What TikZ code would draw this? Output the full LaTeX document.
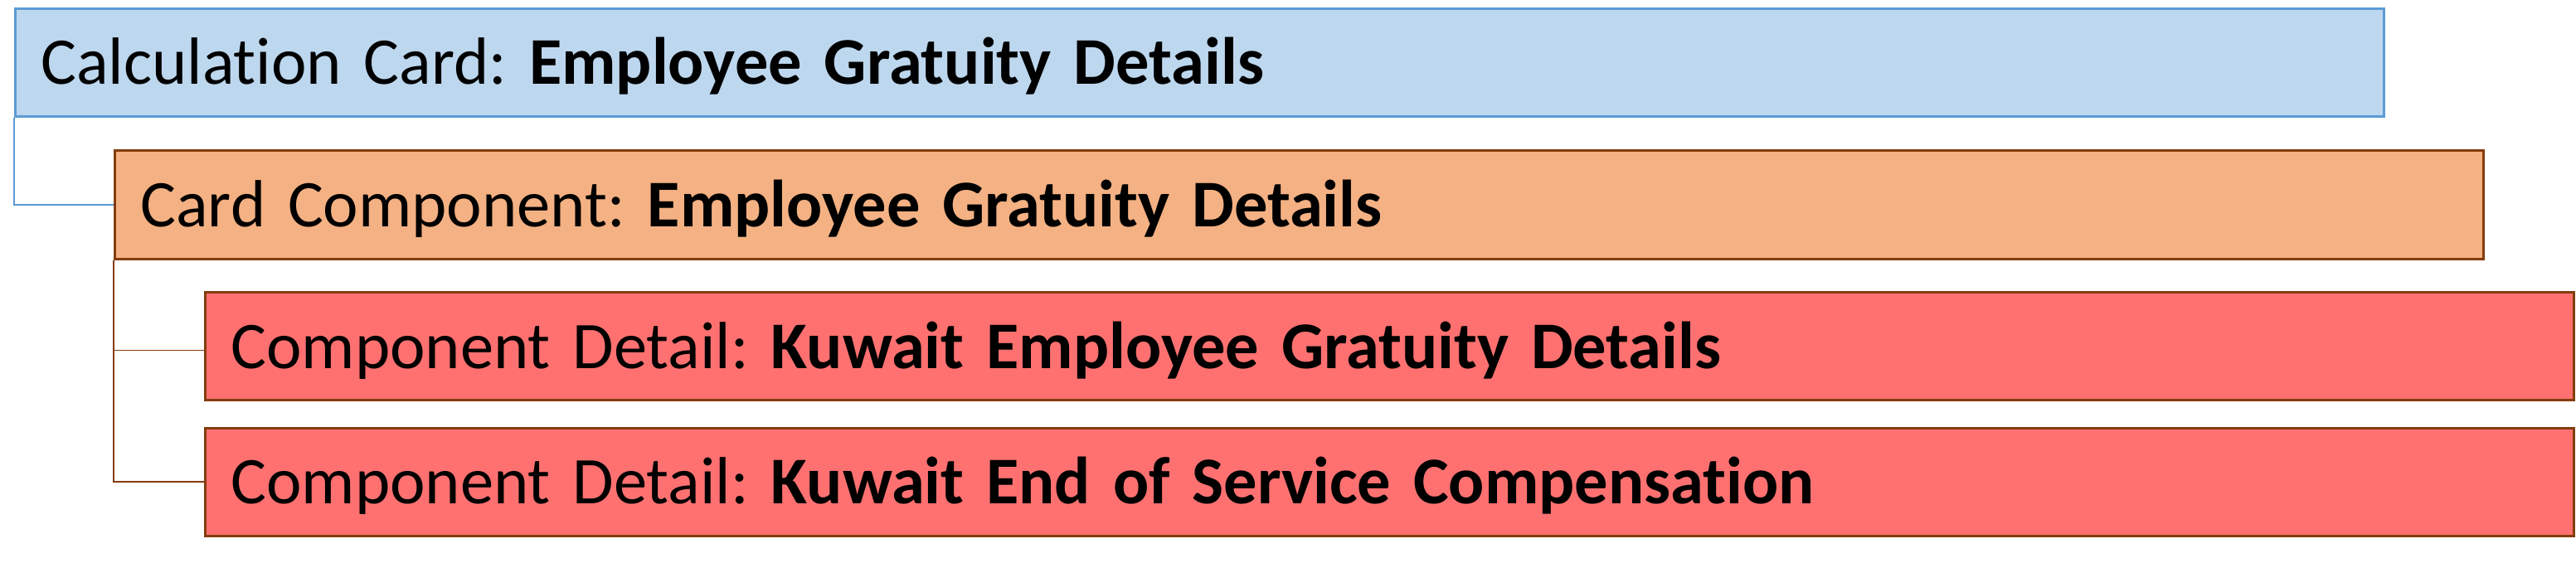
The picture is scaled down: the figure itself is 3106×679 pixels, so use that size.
\documentclass[tikz,border=0pt]{standalone}
\usepackage{fontspec}
\setmainfont{Carlito}[Ligatures=NoCommon]
\frenchspacing
\definecolor{bluefill}{HTML}{BDD7EE}
\definecolor{blueline}{HTML}{5B9BD5}
\definecolor{orangefill}{HTML}{F4B183}
\definecolor{brownline}{HTML}{843C0C}
\definecolor{redfill}{HTML}{FF7171}
\tikzset{
  cardbox/.style={draw, rectangle, anchor=center, inner xsep=31pt, inner ysep=0pt,
    text width=2794pt, align=left, text height=53pt, text depth=0pt,
    minimum width=2856pt, minimum height=130pt,
    font=\fontsize{80.5}{96}\selectfont},
  calcbox/.style={cardbox, fill=bluefill, draw=blueline, line width=2.5pt},
  compbox/.style={cardbox, fill=orangefill, draw=brownline, line width=3pt},
  detailbox/.style={cardbox, fill=redfill, draw=brownline, line width=3pt},
  blueconn/.style={draw=blueline, line width=1.6pt},
  brownconn/.style={draw=brownline, line width=1.6pt}
}
\begin{document}
\begin{tikzpicture}[x=1pt, y=-1pt]
\useasboundingbox (0,0) rectangle (3106,679);
\node[calcbox] (calc) at (1446.5,75.5) {Calculation Card: \textbf{Employee Gratuity Details}};
\node[compbox] (comp) at (1566.5,247) {Card Component: \textbf{Employee Gratuity Details}};
\node[detailbox] (det1) at (1675.5,417.5) {Component Detail: \textbf{Kuwait Employee Gratuity Details}};
\node[detailbox] (det2) at (1675.5,581) {Component Detail: \textbf{Kuwait End of Service Compensation}};
\draw[blueconn] (calc.south west) |- (comp.west);
\draw[brownconn] (comp.south west) |- ([yshift=-5pt]det1.west);
\draw[brownconn] (comp.south west) |- (det2.west);
\end{tikzpicture}
\end{document}
